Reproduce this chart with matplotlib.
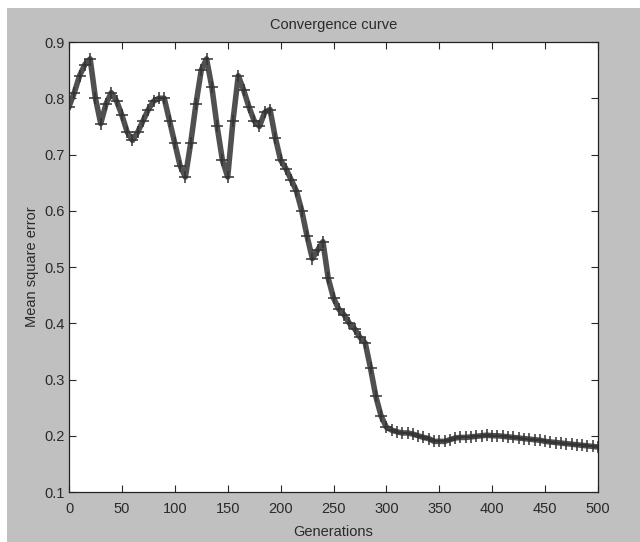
import matplotlib
matplotlib.use("Agg")
import matplotlib.pyplot as plt
from matplotlib.patches import Rectangle
import numpy as np

generations = list(range(0, 501, 5))
mse = [0.785, 0.81, 0.84, 0.86, 0.87, 0.80, 0.755, 0.79, 0.81, 0.795,
       0.77, 0.74, 0.725, 0.74, 0.76, 0.78, 0.795, 0.80, 0.80, 0.76,
       0.72, 0.68, 0.66, 0.72, 0.79, 0.85, 0.87, 0.82, 0.75, 0.69,
       0.66, 0.76, 0.84, 0.815, 0.785, 0.76, 0.75, 0.775, 0.78, 0.73,
       0.69, 0.675, 0.655, 0.635, 0.60, 0.555, 0.515, 0.53, 0.545, 0.48,
       0.445, 0.425, 0.415, 0.40, 0.39, 0.375, 0.365, 0.32, 0.27, 0.235,
       0.215, 0.21, 0.207, 0.205, 0.205, 0.203, 0.20, 0.197, 0.195, 0.19,
       0.19, 0.19, 0.193, 0.196, 0.197, 0.197, 0.198, 0.199, 0.20, 0.201,
       0.20, 0.20, 0.199, 0.198, 0.197, 0.196, 0.195, 0.194, 0.193, 0.192,
       0.19, 0.189, 0.188, 0.187, 0.186, 0.185, 0.184, 0.183, 0.182, 0.181,
       0.18]

xticks = [0, 50, 100, 150, 200, 250, 300, 350, 400, 450, 500]
yticks = [0.1, 0.2, 0.3, 0.4, 0.5, 0.6, 0.7, 0.8, 0.9]

plt.rcParams['font.family'] = ['Liberation Sans', 'DejaVu Sans']
fs = 10.5

W, H = 640, 542
fig = plt.figure(figsize=(W / 100, H / 100), dpi=100)
fig.patch.set_facecolor('white')
bg = Rectangle((7 / W, 0), 1 - 7 / W, 1 - 8 / H,
               transform=fig.transFigure, facecolor='#c0c0c0',
               edgecolor='none', zorder=-10)
fig.add_artist(bg)

ax = fig.add_axes([69 / W, (H - 492) / H, 529 / W, 450 / H])
ax.set_zorder(5)
ax.set_facecolor('white')
ax.plot(generations, mse, color='#505050', linewidth=4.0, marker='+',
        markersize=9, markeredgewidth=1.1, markeredgecolor='#333333')

ax.set_xlim(0, 500)
ax.set_ylim(0.1, 0.9)
ax.set_xticks(xticks)
ax.set_xticklabels([str(t) for t in xticks])
ax.set_yticks(yticks)
ax.set_yticklabels([f"{t:.1f}" for t in yticks])
ax.tick_params(direction='in', length=5, width=0.8, top=True, right=True,
               labelsize=fs, colors='#2a2a2a')
ax.tick_params(axis='x', pad=7)
ax.tick_params(axis='y', pad=3)
for s in ax.spines.values():
    s.set_linewidth(0.9)
    s.set_color('#222222')

ax.set_title('Convergence curve', fontsize=fs, pad=9, color='#2a2a2a')
ax.set_xlabel('Generations', fontsize=fs, labelpad=7, color='#2a2a2a')
ax.set_ylabel('Mean square error', fontsize=fs, labelpad=4, color='#2a2a2a')

fig.savefig('out.png', dpi=100, facecolor=fig.get_facecolor())
